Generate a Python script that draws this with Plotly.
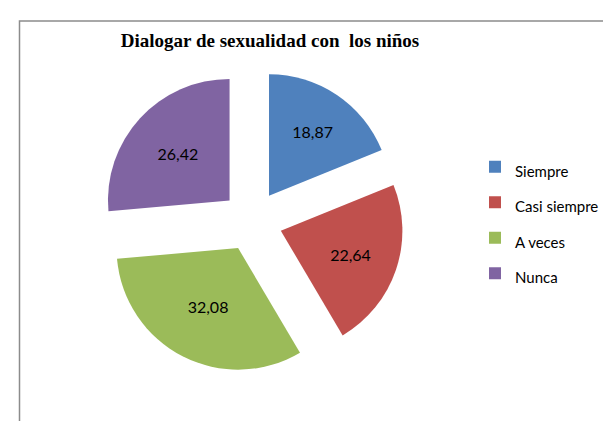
import plotly.graph_objects as go

W, H = 611, 421

categorias = ['Siempre', 'Casi siempre', 'A veces', 'Nunca']
porcentajes = [18.87, 22.64, 32.08, 26.42]
colores = ['#4F81BD', '#C0504D', '#9BBB59', '#8064A2']
titulo = 'Dialogar de sexualidad con\u00a0 los niños'

# pie centre in px, half of domain size in px (pull 0.25)
cx, cy, half = 244, 213, 152
fig = go.Figure()

fig.add_trace(go.Pie(
    labels=["<span style='font-size:15px'>" + c + '</span>' for c in categorias],
    values=porcentajes,
    sort=False,
    direction='clockwise',
    rotation=0,
    pull=0.25,
    marker=dict(colors=colores, line=dict(width=0)),
    texttemplate='%{value:.2f}',
    textposition='inside',
    insidetextorientation='horizontal',
    textfont=dict(family='Lato', size=16, color='#000000'),
    hoverinfo='label+value',
    domain=dict(x=[(cx - half) / W, (cx + half) / W],
                y=[1 - (cy + half) / H, 1 - (cy - half) / H])
))

fig.update_layout(
    width=W, height=H,
    margin=dict(l=0, r=0, t=0, b=0),
    separators=',.',
    paper_bgcolor='white',
    plot_bgcolor='white',
    title=dict(text='<b>' + titulo + '</b>', x=262 / W, xanchor='center',
               y=1 - 32 / H, yanchor='middle',
               font=dict(family='Liberation Serif', size=19, color='#000000')),
    legend=dict(x=467 / W, xanchor='left', y=1 - 136 / H, yanchor='top',
                font=dict(family='Lato', size=25, color='#000000')),
    shapes=[dict(type='rect', xref='paper', yref='paper',
                 x0=11.5 / W, x1=1.02, y0=-0.02, y1=1 - 13 / H,
                 line=dict(color='#8c8c8c', width=1.5))]
)

fig.write_html('out.html')
